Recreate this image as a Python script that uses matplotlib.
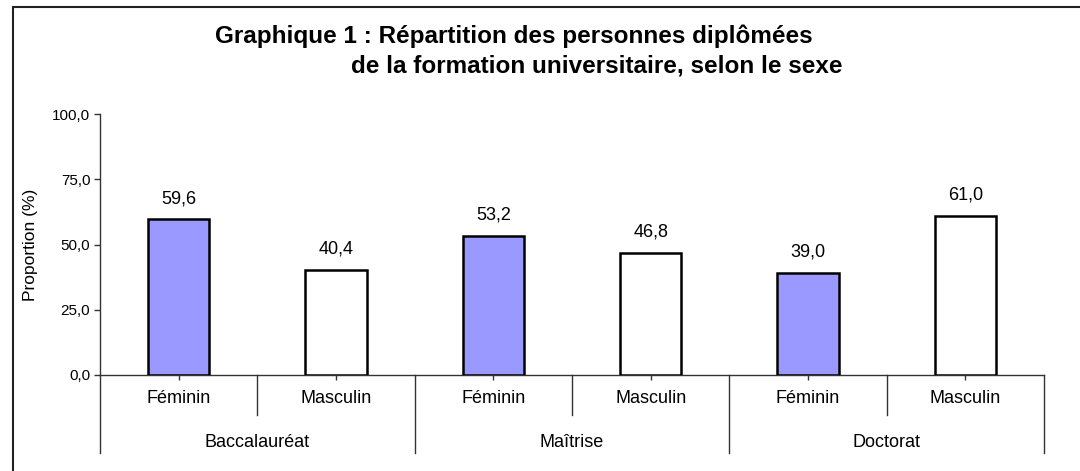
import numpy as np
import matplotlib
matplotlib.use("Agg")
import matplotlib.pyplot as plt
from matplotlib.patches import Rectangle
from matplotlib.ticker import FuncFormatter
import matplotlib.transforms as mtrans

# data
groups = ["Baccalauréat", "Maîtrise", "Doctorat"]
sexes = ["Féminin", "Masculin"]
feminin = [59.6, 53.2, 39.0]
masculin = [40.4, 46.8, 61.0]

plt.rcParams["font.family"] = ["Liberation Sans", "DejaVu Sans"]

W, H = 1080, 471
fig = plt.figure(figsize=(W / 100, H / 100), dpi=100)

# axes placed by pixel box: x 100..1044, y 114..375
ax = fig.add_axes([100 / W, 1 - 375 / H, (1044 - 100) / W, (375 - 114) / H])

values = []
labels = []
for f, m in zip(feminin, masculin):
    values += [f, m]
    labels += sexes
pos = np.arange(len(values))
colors = ["#9999FF", "white"] * len(groups)

bars = ax.bar(pos, values, width=0.39, color=colors, edgecolor="black",
              linewidth=1.8, zorder=3)

for x, v in zip(pos, values):
    ax.annotate(("%.1f" % v).replace(".", ","), (x, v), xytext=(0, 15),
                textcoords="offset points", ha="center", va="center",
                fontsize=13)

ax.set_xlim(-0.5, len(values) - 0.5)
ax.set_ylim(0, 100)
ax.set_yticks([0, 25, 50, 75, 100])
ax.yaxis.set_major_formatter(FuncFormatter(lambda v, p: ("%.1f" % v).replace(".", ",")))
ax.tick_params(axis="y", direction="out", length=4, width=1, color="#333333",
               labelsize=11, pad=3)

ax.set_xticks(pos)
ax.set_xticklabels(labels)
ax.tick_params(axis="x", direction="inout", length=7, width=1, color="#333333",
               labelsize=13, pad=7)

for s in ["top", "right"]:
    ax.spines[s].set_visible(False)
ax.spines["left"].set_color("#333333")
ax.spines["bottom"].set_color("#333333")
ax.spines["left"].set_linewidth(1)
ax.spines["bottom"].set_linewidth(1)

# category separators below the axis
trans = mtrans.blended_transform_factory(ax.transData, ax.transAxes)
for i in range(len(values) + 1):
    x = i - 0.5
    low = -0.299 if i % 2 == 0 else -0.153
    ax.plot([x, x], [0, low], transform=trans, color="#333333", lw=1,
            clip_on=False)

for g, name in enumerate(groups):
    ax.text(2 * g + 0.5, -0.257, name, transform=trans, ha="center",
            va="center", fontsize=13)

fig.text(30 / W, 1 - 245 / H, "Proportion (%)", rotation=90, ha="center",
         va="center", fontsize=12.5)

fig.text(215 / W, 1 - 36 / H, "Graphique 1 : Répartition des personnes diplômées",
         ha="left", va="center", fontsize=17.5, fontweight="bold")
fig.text(351 / W, 1 - 66 / H, "de la formation universitaire, selon le sexe",
         ha="left", va="center", fontsize=17.5, fontweight="bold")

# outer frame
fig.patches.append(Rectangle((13 / W, -0.1), 1.2, 1.1 - 7 / H,
                             transform=fig.transFigure, fill=False,
                             edgecolor="#222222", linewidth=1.5))

fig.savefig("out.png", dpi=100)
